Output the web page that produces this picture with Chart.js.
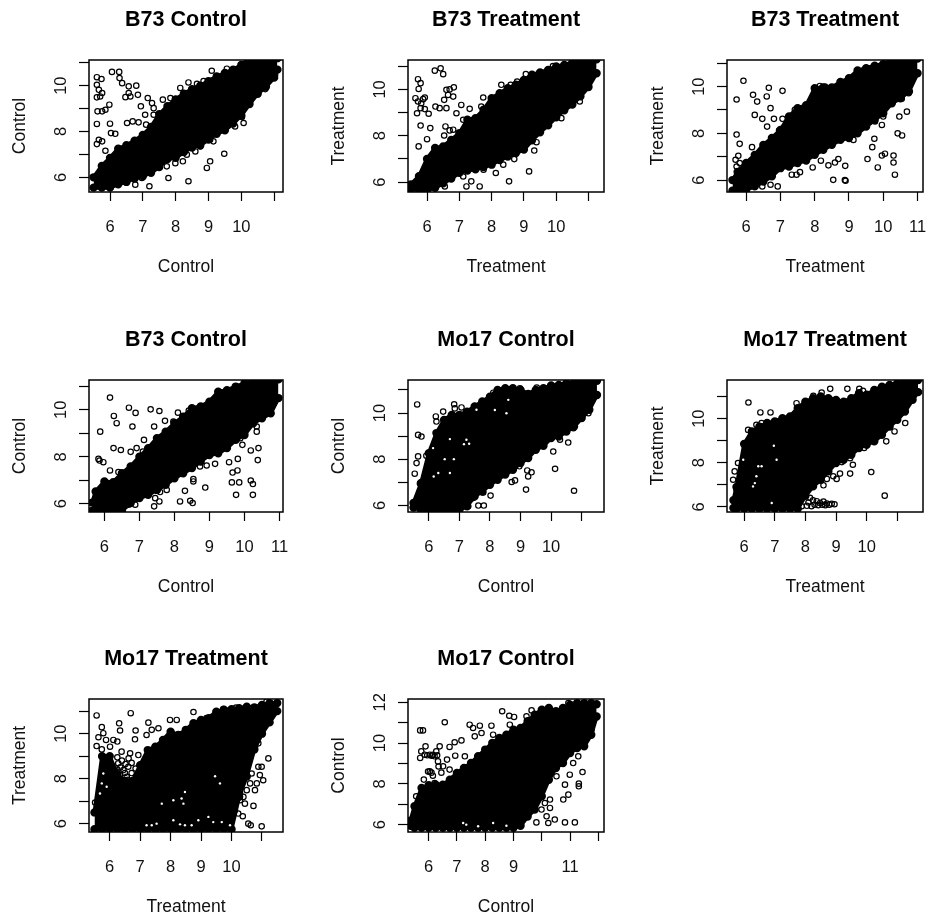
<!DOCTYPE html>
<html>
<head>
<meta charset="utf-8">
<title>Scatter plots</title>
<script src="https://cdn.jsdelivr.net/npm/chart.js@4"></script>
<style>
  html, body { margin: 0; background: #fff; overflow: hidden; }
  #page { position: relative; width: 928px; height: 921px; }
  canvas { position: absolute; filter: blur(0.4px); }
</style>
</head>
<body>
<div id="page"></div>
<script>
// titles and axis names, left to right, top to bottom
const titles = ['B73 Control', 'B73 Treatment', 'B73 Treatment', 'B73 Control', 'Mo17 Control', 'Mo17 Treatment', 'Mo17 Treatment', 'Mo17 Control'];
const axisNames = ['Control', 'Treatment', 'Treatment', 'Control', 'Control', 'Treatment', 'Treatment', 'Control'];

const xTicks = [6, 7, 8, 9, 10, 11];
const yTicks = [6, 7, 8, 9, 10, 11];
const yTicks8 = [6, 7, 8, 9, 10, 11, 12];
const xTicks8 = [6, 7, 8, 9, 10, 11, 12];
const xLabelsShort = [6, 7, 8, 9, 10];
const xLabelsFull = [6, 7, 8, 9, 10, 11];
const xLabels8 = [6, 7, 8, 9, 11];
const yLabels = [6, 8, 10];
const yLabels8 = [6, 8, 10, 12];

// the solid black part of each cloud: top and bottom edge read at each x
const p1X = [5.5,5.75,6,6.25,6.5,6.75,7,7.25,7.5,7.75,8,8.25,8.5,8.75,9,9.25,9.5,9.75,10,10.25,10.5,10.75,11,11.1];
const p1Top = [6.0,6.5,6.85,7.25,7.4,7.6,7.85,8.2,8.75,9.1,9.4,9.65,9.85,10.0,10.2,10.4,10.55,10.7,10.9,11.2,11.2,11.2,11.2,11.2];
const p1Bottom = [5.55,5.55,5.55,5.7,5.8,5.95,6.05,6.2,6.45,6.8,6.85,7.1,7.3,7.4,7.65,7.9,8.05,8.35,8.7,9.2,9.65,9.95,10.35,10.7];

const p2X = [5.5,5.75,6,6.25,6.5,6.75,7,7.25,7.5,7.75,8,8.25,8.5,8.75,9,9.25,9.5,9.75,10,10.25,10.5,10.75,11,11.25];
const p2Top = [5.9,6.25,7.0,7.47,7.54,7.82,8.11,8.69,8.76,9.12,9.62,9.84,10.05,10.2,10.41,10.63,10.73,10.84,10.99,11.06,11.16,11.23,11.3,11.3];
const p2Bottom = [5.7,5.65,5.65,5.75,5.95,6.15,6.4,6.5,6.55,6.65,6.75,6.95,7.1,7.25,7.4,7.8,8.15,8.45,8.8,9.1,9.35,9.7,10.1,10.7];

const p3X = [5.6,5.75,6,6.25,6.5,6.75,7,7.25,7.5,7.75,8,8.25,8.5,8.75,9,9.25,9.5,9.75,10,10.25,10.5,10.75,11];
const p3Top = [6.0,6.35,6.73,7.08,7.5,7.8,8.15,8.72,9.08,9.2,9.93,9.97,9.97,10.2,10.36,10.69,10.79,10.9,10.97,11.15,11.2,11.2,11.2];
const p3Bottom = [5.55,5.55,5.6,5.73,5.94,6.16,6.51,6.58,6.73,6.84,7.08,7.3,7.51,7.72,7.8,8.0,8.29,8.58,8.86,9.29,9.5,9.79,10.57];

const p4X = [5.65,5.75,6,6.25,6.5,6.75,7,7.25,7.5,7.75,8,8.25,8.5,8.75,9,9.25,9.5,9.75,10,10.25,10.5,10.75,10.97];
const p4Top = [6.05,6.52,6.95,6.92,7.3,7.59,8.0,8.37,8.79,9.07,9.43,9.71,10.07,10.14,10.35,10.77,10.84,10.99,11.13,11.23,11.3,11.3,11.3];
const p4Bottom = [5.7,5.65,5.65,5.65,5.7,6.03,6.24,6.38,6.59,6.81,7.09,7.3,7.52,7.8,8.08,8.15,8.37,8.72,8.93,9.43,9.64,9.85,10.5];

const p5X = [5.5,5.75,6,6.25,6.5,6.75,7,7.25,7.5,7.75,8,8.25,8.5,8.75,9,9.25,9.5,9.75,10,10.25,10.5,10.75,11,11.25,11.5];
const p5Top = [6.1,6.97,8.26,9.13,9.7,9.92,9.92,10.06,10.28,10.5,10.71,11.0,11.07,11.07,11.0,10.83,11.0,11.07,11.19,11.22,11.29,11.32,11.36,11.4,11.4];
const p5Bottom = [5.9,5.8,5.8,5.8,5.8,5.8,5.8,5.96,6.39,6.6,6.89,7.11,7.33,7.54,7.83,8.05,8.41,8.58,8.91,8.98,9.2,9.41,9.78,10.14,10.78];

const p6X = [5.65,5.75,6,6.25,6.5,6.75,7,7.25,7.5,7.75,8,8.25,8.5,8.75,9,9.25,9.5,9.75,10,10.25,10.5,10.75,11,11.25,11.5,11.68];
const p6Top = [6.3,6.9,8.85,9.42,9.64,9.8,9.87,10.02,10.1,10.47,10.77,10.92,11.0,10.92,10.85,10.77,10.92,11.15,11.08,11.3,11.45,11.53,11.6,11.7,11.75,11.75];
const p6Bottom = [5.95,5.92,5.92,5.92,5.92,5.92,5.92,5.92,5.92,5.92,6.5,6.93,7.23,7.61,7.99,8.14,8.36,8.67,8.82,8.97,9.27,9.64,9.95,10.32,10.85,11.2];

const p7X = [5.5,5.75,6,6.25,6.5,6.75,7,7.25,7.5,7.75,8,8.25,8.5,8.75,9,9.25,9.5,9.75,10,10.25,10.5,10.75,11,11.25,11.5];
const p7Top = [6.5,9.0,9.0,8.2,7.9,7.9,8.6,9.27,9.42,9.72,10.09,9.94,10.17,10.46,10.61,10.69,10.98,11.06,11.09,11.13,11.2,11.17,11.28,11.36,11.36];
const p7Bottom = [5.75,5.75,5.75,5.75,5.75,5.75,5.75,5.75,5.75,5.75,5.75,5.75,5.75,5.75,5.75,5.75,5.75,5.75,5.75,7.2,8.1,9.3,10.0,10.5,11.0];

const p8X = [5.36,5.5,5.75,6,6.25,6.5,6.75,7,7.25,7.5,7.75,8,8.25,8.5,8.75,9,9.25,9.5,9.75,10,10.25,10.5,10.75,11,11.25,11.5,11.75,11.94];
const p8Top = [6.2,6.9,7.8,7.93,7.96,7.96,8.2,8.53,8.78,9.02,9.35,9.68,10,10.25,10.41,10.66,10.74,11.07,11.39,11.64,11.72,11.56,11.72,11.88,11.96,11.96,11.96,11.9];
const p8Bottom = [5.95,5.85,5.85,5.85,5.85,5.85,5.85,5.85,5.85,5.85,5.85,5.85,5.85,5.85,5.85,5.85,5.95,6.4,6.74,7.39,8.2,8.78,9.02,9.51,9.76,9.84,10.41,11.3];

// single circles that stand clear of the black part, [x, y]
const p1Points = [[5.6,10.37],[5.74,10.29],[5.6,10.04],[5.66,9.82],[5.76,9.68],[5.6,9.49],[5.7,9.53],[5.62,8.88],[5.76,8.88],[5.86,8.95],[5.98,9.17],[5.6,8.33],[6.0,8.34],[6.03,7.93],[6.16,7.9],[5.66,7.64],[5.76,7.57],[5.6,7.45],[5.86,7.16],[6.06,10.6],[6.28,10.6],[6.29,10.33],[6.37,10.11],[6.57,9.97],[6.8,10],[6.57,9.68],[6.47,9.5],[6.62,9.53],[6.85,9.6],[7.15,9.46],[7.28,9.24],[6.94,9.1],[7.33,9.02],[7.07,8.73],[7.33,8.73],[6.52,8.37],[6.69,8.44],[6.87,8.4],[7.1,8.3],[7.61,9.39],[7.84,9.46],[8.14,9.9],[8.39,10.14],[8.65,10.08],[8.85,10.2],[9.1,10.65],[9.56,10.74],[11.03,10.48],[10.73,9.85],[10.02,8.63],[10.07,8.37],[9.81,8.22],[9.48,7.03],[9.05,6.7],[8.95,6.41],[8.39,5.83],[7.78,5.97],[7.2,5.61],[6.77,5.68],[6.97,5.97],[6.57,6.12],[6.72,6.04],[7.38,6.48],[7.73,6.48],[7.99,6.62],[8.22,6.7],[8.55,7.72],[8.75,7.35],[9.05,7.64],[9.15,7.57],[8.34,6.99],[8.6,7.13]];
const p2Points = [[5.72,10.44],[5.8,10.27],[5.74,10.02],[5.64,9.62],[5.93,9.65],[5.72,9.48],[5.82,9.4],[5.88,9.58],[5.69,8.97],[5.8,9.19],[5.93,9.15],[6.05,8.95],[5.8,8.44],[6.1,8.33],[6,7.85],[5.74,7.54],[6.24,10.81],[6.42,10.91],[6.5,10.66],[6.26,9.26],[6.39,9.19],[6.6,9.19],[6.53,9.55],[6.6,9.98],[6.7,10],[6.83,10.09],[6.65,9.76],[6.81,9.69],[6.91,8.97],[7.06,9.33],[7.12,8.69],[7.32,9.16],[6.57,8.4],[6.53,8.01],[6.81,8.26],[6.7,8.23],[7.68,9.26],[7.74,9.65],[8,9.55],[8.3,10.2],[8.59,10.2],[8.79,10.34],[9.06,10.66],[9.47,10.67],[9.9,11.01],[10.73,9.48],[10.16,8.76],[9.39,7.72],[9.32,7.36],[9.16,6.46],[8.7,6.99],[8.87,7.39],[8.54,6.03],[8.13,6.39],[7.75,6.53],[7.63,5.81],[7.22,5.81],[6.55,5.81],[7.37,6.03],[7.12,6.24],[7.01,6.39],[8.36,6.75]];
const p3Points = [[5.92,10.25],[5.72,9.45],[6.2,9.65],[6.32,9.36],[6.66,9.95],[6.6,9.58],[7.06,9.82],[6.71,9.08],[6.25,8.79],[6.47,8.62],[6.81,8.62],[7.06,8.62],[6.61,8.29],[5.72,7.95],[5.81,7.55],[6.17,7.41],[5.77,7.04],[5.69,6.87],[5.81,6.73],[5.72,6.58],[5.99,6.73],[6.96,8.12],[7.13,8.29],[6.74,7.79],[7.42,9.01],[7.52,9.08],[7.86,9.15],[8.01,9.43],[8.15,10.03],[8.3,10],[8.2,9.5],[10.74,9.72],[10.54,9.48],[10.69,8.93],[10.47,8.72],[10.42,8],[10.55,7.91],[10,8.72],[9.96,8.36],[9.76,8.51],[9.74,7.77],[9.68,7.41],[9.13,7.72],[9.54,6.9],[9.84,6.54],[9.96,7.05],[10.05,7.13],[10.3,7.05],[10.3,6.75],[10.34,6.23],[8.54,6.01],[8.88,6],[8.9,5.97],[8.89,6.61],[8.69,6.9],[8.59,6.75],[8.4,6.63],[8.18,6.83],[7.94,6.54],[7.57,6.34],[7.33,6.23],[7.47,6.23],[6.92,5.73],[6.71,5.8],[6.47,5.73],[6.1,5.73]];
const p4Points = [[6.16,10.52],[5.88,9.07],[6.27,9.74],[6.35,9.43],[6.7,10.09],[6.89,9.87],[6.8,9.29],[7.32,10.02],[7.57,9.95],[7.42,9.29],[6.26,8.37],[6.47,8.29],[6.75,8.21],[6.92,8.37],[7.1,8.22],[7.13,8.72],[5.83,7.91],[5.86,7.84],[5.97,7.77],[6.16,7.42],[6.4,7.35],[7.73,9.53],[7.97,9.5],[8.1,9.88],[8.41,9.97],[8.02,9],[10.35,9.29],[10.35,9.07],[10.4,8.37],[10.18,8.27],[10.38,7.86],[9.94,8.51],[9.88,8.79],[9.81,7.91],[9.56,7.77],[9.8,7.42],[9.66,7.33],[9.64,6.91],[9.85,6.91],[10.18,6.99],[10.24,6.84],[9.76,6.38],[10.24,6.38],[9.16,7.7],[8.92,7.63],[8.73,7.59],[8.88,6.69],[8.54,7.05],[8.54,6.95],[8.3,6.55],[8.16,6.1],[8.45,6.13],[8.52,6.03],[7.78,6.59],[7.59,6.5],[7.57,6.1],[7.45,6.24],[7.42,5.89],[7.19,6.38],[6.88,5.96],[6.69,5.96],[7.02,6.31]];
const p5Points = [[5.62,10.37],[5.65,9.05],[5.76,8.98],[5.65,8.12],[5.6,7.83],[5.54,7.37],[5.71,6.94],[5.87,6.97],[5.92,8.15],[6.23,9.85],[6.25,9.63],[6.47,10.06],[6.83,10.38],[7.07,10.24],[6.85,10.2],[7.62,10.2],[8.11,10.88],[8.98,11.07],[9.53,11.1],[11.22,9.99],[10.56,8.72],[10.73,9.34],[10.29,8.84],[10.07,8.33],[10.13,7.58],[10.75,6.63],[9.18,6.68],[9.22,7.51],[9.36,7.43],[9.25,7.25],[8.71,7.01],[8.82,7.08],[8.96,7.69],[7.78,6.56],[8.02,6.42],[7.62,5.99],[7.8,5.99],[7.45,6.32],[7.29,5.96]];
const p6Points = [[6.14,10.73],[6.53,10.28],[6.86,10.28],[5.69,7.61],[5.64,7.23],[5.8,7.99],[5.91,7.01],[5.75,6.78],[11.26,9.8],[10.91,9.42],[10.64,8.97],[9.92,8.67],[10.15,7.58],[10.59,6.51],[9.46,7.51],[9.55,7.91],[9.46,8.21],[9.19,8.03],[9.13,7.51],[9.02,7.27],[8.91,7.39],[8.7,7.27],[8.59,6.98],[8.81,10.85],[8.53,11.18],[8.81,11.35],[9.37,11.35],[9.76,11.35],[9.88,11.26],[11.08,11.68],[8.26,11.03],[7.71,10.7],[6.4,9.72],[6.13,9.49],[6.57,9.8],[8.48,6.18],[8.7,6.15],[8.86,6.14],[8.59,6.24],[8.37,6.26],[8.15,6.41],[7.99,6.63],[7.71,6.71],[8.2,6.03],[7.88,6.03],[8.3,6.1],[8.42,6.08],[8.55,6.1],[8.65,6.08],[8.78,6.1],[8.95,6.12],[8.1,6.2],[8.25,6.3],[8.05,6.05]];
const p7Points = [[10.28,7.34],[10.06,7.19],[10.28,7.04],[10.5,7.49],[10.77,7.49],[10.11,6.6],[10.22,6.45],[10.37,6.33],[10.55,6],[10.63,5.93],[10.99,5.88],[11.21,8.9],[11.04,7.93],[10.93,8.16],[10.88,8.53],[10.77,9.42],[10.88,9.57],[10.72,9.79],[10.55,8.83],[10.66,8.23],[10.33,9.13],[10.72,6.79],[10.99,8.53],[10.83,7.79],[10.61,7.79],[10.39,7.19],[9.95,6.89],[10.44,6.89],[5.57,10.81],[6.69,10.91],[5.74,10.29],[5.79,10.02],[5.63,9.84],[5.88,9.72],[6.12,9.72],[5.57,9.45],[5.74,9.3],[6.01,9.42],[6.25,9.65],[6.31,10.46],[6.34,10.14],[6.85,10.14],[6.83,9.75],[6.39,9.2],[6.67,9.13],[6.94,9.05],[7.27,10.49],[7.21,9.94],[7.38,10.17],[7.6,10.24],[7.76,9.5],[7.49,9.35],[7.98,10.61],[8.2,10.61],[8.75,10.96],[9.18,10.69],[9.73,11.09],[10.15,11.16],[11.15,11.43],[5.52,6.94],[6.18,8.31],[6.34,8.16],[6.56,8.08],[6.78,7.93],[6.12,7.79],[6.89,7.71],[6.45,8.38],[6.28,8.68],[6.61,8.53],[6.25,8.95],[6.4,8.8],[6.52,8.65],[6.62,8.9],[6.72,8.7],[6.85,8.45],[6.35,8.5],[6.5,8.25],[6.72,8.25],[6.9,8.15],[6.4,7.95],[6.6,7.95],[6.25,8.4]];
const p8Points = [[5.7,10.62],[5.8,10.62],[6.57,11.02],[5.74,9.59],[5.89,9.84],[5.7,9.27],[5.86,9.43],[6.04,9.43],[6.21,9.35],[6.39,9.84],[6.27,9.59],[6.33,9.1],[6.51,8.86],[6.04,8.61],[5.83,8.21],[6.21,8.04],[6.74,9.81],[6.92,10.04],[7.16,10.13],[6.65,9.19],[6.74,8.7],[6.94,9.38],[7.28,9.35],[7.45,10.9],[7.57,10.74],[7.63,10.33],[7.81,10.85],[7.87,10.49],[8.22,10.85],[8.28,10.41],[8.6,11.56],[8.85,11.34],[9.02,11.28],[8.87,10.9],[9.22,10.69],[9.46,11.31],[9.64,11.6],[10.94,11.96],[11.88,11.88],[11.64,10.49],[11.76,10.66],[11.23,10.08],[11.29,9.35],[11.11,9.02],[11.44,8.58],[11.31,8.01],[11.31,7.88],[10.99,8.45],[10.82,7.96],[10.94,7.47],[10.76,7.23],[10.52,8.37],[10.46,9.1],[10.29,7.23],[10.11,7.06],[9.99,6.74],[10.29,6.82],[10.46,6.25],[10.82,6.11],[11.17,6.11],[10.17,6.41],[10.23,6.08],[9.81,6.11],[9.34,6.25],[9.52,6.57],[5.56,7.39],[5.59,6.78],[5.45,6.16],[5.95,9.4],[6.1,9.38],[6.15,9.42],[6.3,9.4],[5.98,8.6],[6.1,8.55],[6.15,8.4],[6.35,8.85],[6.45,8.55]];

// small white gaps left inside the black part
const p5Gaps = [[6.69,8.87],[7.23,8.84],[7.32,8.67],[7.15,8.65],[6.82,8],[6.52,8],[6.69,7.4],[6.31,7.4],[6.16,7.25],[6.14,8.48],[8.6,10.57],[8.54,9.99],[8.16,10.13],[7.56,10.14]];
const p6Gaps = [[6.97,8.77],[7.06,8.14],[6.46,7.84],[6.57,7.84],[6.4,7.39],[6.35,7.08],[6.29,6.93],[6.9,6.18],[5.97,8.14]];
const p7Gaps = [[7.71,6.89],[8.09,7.04],[8.36,7.12],[8.42,6.89],[8.47,7.41],[9.46,8.11],[9.62,7.79],[5.79,8.23],[5.74,7.79],[5.9,7.64],[5.68,7.34],[7.21,5.93],[7.38,5.93],[7.54,6],[8.09,6.15],[8.31,5.97],[8.47,5.93],[8.69,5.93],[8.91,6.15],[9.24,6.3],[9.4,6.07],[9.68,6.07],[9.95,5.93]];
const p8Gaps = [[7.22,6.08],[7.33,6],[7.75,5.92],[8.28,6.08],[8.75,5.95]];

const panels = [
  { x: p1X, top: p1Top, bottom: p1Bottom, points: p1Points, gaps: [], xMin: 5.36, xMax: 11.27, yMin: 5.36, yMax: 11.12, xTicks, yTicks, xLabels: xLabelsShort, yLabels },
  { x: p2X, top: p2Top, bottom: p2Bottom, points: p2Points, gaps: [], xMin: 5.41, xMax: 11.48, yMin: 5.57, yMax: 11.27, xTicks, yTicks, xLabels: xLabelsShort, yLabels },
  { x: p3X, top: p3Top, bottom: p3Bottom, points: p3Points, gaps: [], xMin: 5.44, xMax: 11.16, yMin: 5.49, yMax: 11.14, xTicks, yTicks, xLabels: xLabelsFull, yLabels },
  { x: p4X, top: p4Top, bottom: p4Bottom, points: p4Points, gaps: [], xMin: 5.56, xMax: 11.10, yMin: 5.65, yMax: 11.27, xTicks, yTicks, xLabels: xLabelsFull, yLabels },
  { x: p5X, top: p5Top, bottom: p5Bottom, points: p5Points, gaps: p5Gaps, xMin: 5.32, xMax: 11.73, yMin: 5.71, yMax: 11.43, xTicks, yTicks, xLabels: xLabelsShort, yLabels },
  { x: p6X, top: p6Top, bottom: p6Bottom, points: p6Points, gaps: p6Gaps, xMin: 5.44, xMax: 11.84, yMin: 5.77, yMax: 11.75, xTicks, yTicks, xLabels: xLabelsShort, yLabels },
  { x: p7X, top: p7Top, bottom: p7Bottom, points: p7Points, gaps: p7Gaps, xMin: 5.32, xMax: 11.69, yMin: 5.63, yMax: 11.54, xTicks, yTicks, xLabels: xLabelsShort, yLabels },
  { x: p8X, top: p8Top, bottom: p8Bottom, points: p8Points, gaps: p8Gaps, xMin: 5.27, xMax: 12.2, yMin: 5.64, yMax: 12.16, xTicks: xTicks8, yTicks: yTicks8, xLabels: xLabels8, yLabels: yLabels8 }
];

// plot boxes on the page
const colLeft = [89, 408, 727];
const colWidth = [194, 196, 196];
const rowTop = [60, 380, 699];
const rowHeight = [132, 132, 133];
const yAxisSpace = 80;
const xAxisSpace = 88;
const fontName = '"Liberation Sans", Arial, sans-serif';

// tick labels may stick out past the box, so the box must not shrink for them
function noPadding(s) {
  s.paddingLeft = 0;
  s.paddingRight = 0;
  s.paddingTop = 0;
  s.paddingBottom = 0;
}

// box round the plot, and the y tick labels turned on their side like R does
const rBox = {
  id: 'rBox',
  afterDraw(chart, args, opts) {
    const ctx = chart.ctx;
    const a = chart.chartArea;
    const y = chart.scales.y;
    ctx.save();
    ctx.strokeStyle = '#000';
    ctx.lineWidth = 1.5;
    ctx.strokeRect(a.left, a.top, a.right - a.left, a.bottom - a.top);
    ctx.fillStyle = '#111';
    ctx.font = '16.5px ' + fontName;
    ctx.textAlign = 'center';
    ctx.textBaseline = 'middle';
    opts.labels.forEach(v => {
      ctx.save();
      ctx.translate(a.left - 28, y.getPixelForValue(v));
      ctx.rotate(-Math.PI / 2);
      ctx.fillText(String(v), 0, 0);
      ctx.restore();
    });
    ctx.restore();
  }
};

panels.forEach((p, i) => {
  const col = i % 3;
  const row = Math.floor(i / 3);
  const canvas = document.createElement('canvas');
  canvas.width = colWidth[col] + yAxisSpace + 5;
  canvas.height = rowHeight[row] + 60 + xAxisSpace;
  canvas.style.left = (colLeft[col] - yAxisSpace) + 'px';
  canvas.style.top = (rowTop[row] - 60) + 'px';
  document.getElementById('page').appendChild(canvas);

  new Chart(canvas, {
    type: 'scatter',
    data: {
      datasets: [
        {
          label: 'gaps',
          data: p.gaps.map(g => ({ x: g[0], y: g[1] })),
          pointRadius: 1.2,
          pointBorderWidth: 0,
          pointBackgroundColor: '#fff'
        },
        {
          label: 'points',
          data: p.points.map(g => ({ x: g[0], y: g[1] })),
          pointRadius: 2.7,
          pointBorderWidth: 1.2,
          pointBorderColor: '#000',
          pointBackgroundColor: 'rgba(0,0,0,0)'
        },
        {
          label: 'top',
          data: p.x.map((x, k) => ({ x: x, y: p.top[k] })),
          showLine: true,
          borderColor: '#000',
          borderWidth: 4,
          backgroundColor: '#000',
          fill: '+1',
          pointRadius: 2.2,
          pointBackgroundColor: '#000',
          pointBorderColor: '#000'
        },
        {
          label: 'bottom',
          data: p.x.map((x, k) => ({ x: x, y: p.bottom[k] })),
          showLine: true,
          borderColor: '#000',
          borderWidth: 4,
          pointRadius: 2.2,
          pointBackgroundColor: '#000',
          pointBorderColor: '#000'
        }
      ]
    },
    options: {
      responsive: false,
      animation: false,
      layout: { autoPadding: false, padding: { right: 5 } },
      plugins: {
        legend: { display: false },
        tooltip: { enabled: false },
        title: {
          display: true,
          text: titles[i],
          fullSize: false,
          color: '#000',
          font: { family: fontName, size: 21.5, weight: 'bold' },
          padding: { top: 7, bottom: 27.2 }
        },
        rBox: { labels: p.yLabels }
      },
      scales: {
        x: {
          type: 'linear',
          min: p.xMin,
          max: p.xMax,
          afterFit(s) { s.height = xAxisSpace; noPadding(s); },
          afterBuildTicks(s) { s.ticks = p.xTicks.map(v => ({ value: v })); },
          border: { display: false },
          grid: { drawOnChartArea: false, tickLength: 9, tickColor: '#000', tickWidth: 1.2 },
          ticks: {
            padding: 17,
            autoSkip: false,
            maxRotation: 0,
            color: '#111',
            font: { family: fontName, size: 16.5 },
            callback: v => p.xLabels.includes(v) ? String(v) : ''
          },
          title: {
            display: true,
            text: axisNames[i],
            color: '#111',
            font: { family: fontName, size: 17.5 },
            padding: { top: 0, bottom: 2 }
          }
        },
        y: {
          type: 'linear',
          min: p.yMin,
          max: p.yMax,
          afterFit(s) { s.width = yAxisSpace; noPadding(s); },
          afterBuildTicks(s) { s.ticks = p.yTicks.map(v => ({ value: v })); },
          border: { display: false },
          grid: { drawOnChartArea: false, tickLength: 10, tickColor: '#000', tickWidth: 1.2 },
          ticks: { display: false },
          title: {
            display: true,
            text: axisNames[i],
            color: '#111',
            font: { family: fontName, size: 17.5 },
            padding: { top: 1, bottom: 0 }
          }
        }
      }
    },
    plugins: [rBox]
  });
});
</script>
</body>
</html>
